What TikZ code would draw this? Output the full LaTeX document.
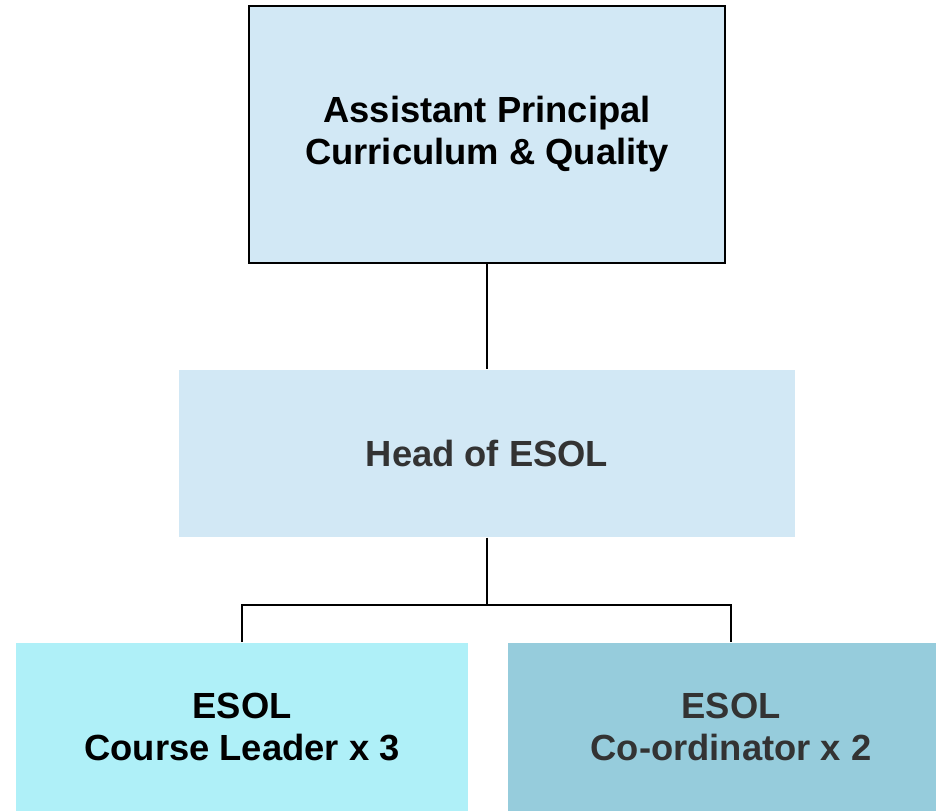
\documentclass[tikz,border=0pt]{standalone}
\usepackage{xcolor}
\usepackage{fontspec}
\setmainfont{Liberation Sans}
\usepackage{tikz}
\usetikzlibrary{positioning}

\definecolor{paleblue}{HTML}{D2E8F5}
\definecolor{cyanbox}{HTML}{AFF0F8}
\definecolor{tealbox}{HTML}{96CCDC}
\definecolor{darktext}{HTML}{333333}

\begin{document}
\begin{tikzpicture}[line width=1.5bp]
 \tikzstyle{every node}=[inner sep=0pt, align=center, font=\bfseries\fontsize{36.5}{42}\selectfont]
 \tikzstyle{post}=[rectangle, fill=paleblue]
 \useasboundingbox (0bp,0bp) rectangle (936bp,811bp);

 \node (AP) at (487bp,676.5bp) [post, draw=black, minimum width=476bp, minimum height=257bp] {Assistant Principal\\Curriculum \& Quality};
 \node (Head) at (487bp,357.5bp) [post, minimum width=616bp, minimum height=167bp, text=darktext] {Head of ESOL};
 \node (Leader) at (242bp,84bp) [post, fill=cyanbox, minimum width=452bp, minimum height=168bp] {ESOL\\Course Leader x 3};
 \node (Coord) at (731bp,84bp) [post, fill=tealbox, minimum width=446bp, minimum height=168bp, text=darktext] {ESOL\\Co-ordinator x 2}; % runs past the right edge

 \coordinate (bar) at (487bp,206bp);

 \draw (AP) -- (Head);
 \draw (Head) -- (bar);
 \draw (Leader.north) |- (bar) -| (Coord.north);

\end{tikzpicture}
\end{document}
